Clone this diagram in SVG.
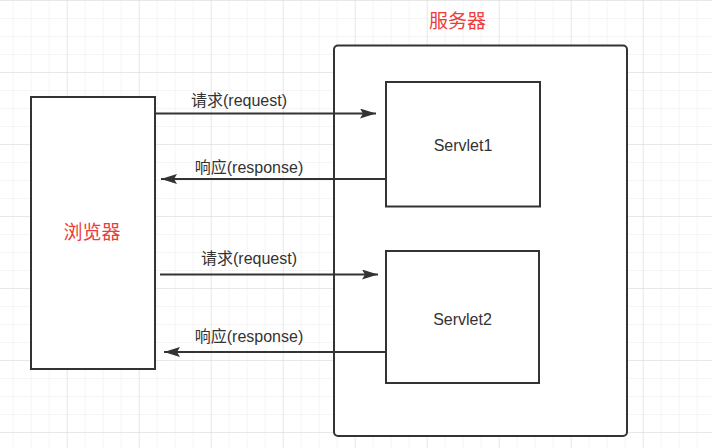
<svg xmlns="http://www.w3.org/2000/svg" width="712" height="448" viewBox="0 0 712 448">
  <defs>
    <pattern id="minor" x="12.67" y="0" width="18" height="18" patternUnits="userSpaceOnUse">
      <path d="M0,0 V18 M0,0 H18" fill="none" stroke="#ececec" stroke-width="1"/>
    </pattern>
    <pattern id="major" x="66.67" y="0" width="72" height="72" patternUnits="userSpaceOnUse">
      <path d="M0,0 V72 M0,0 H72" fill="none" stroke="#dcdcdc" stroke-width="1"/>
    </pattern>
    <marker id="arrow" viewBox="0 0 16 10" refX="16" refY="5" markerWidth="16" markerHeight="10" markerUnits="userSpaceOnUse" orient="auto">
      <path d="M0,0 L16,5 L0,10 L3,5 Z" fill="#333333"/>
    </marker>
  </defs>
  <style>
    .box { fill: #ffffff; stroke: #333333; stroke-width: 2; }
    .conn { stroke: #333333; stroke-width: 2; fill: none; marker-end: url(#arrow); }
    .lbl { font-family: "Liberation Sans", "Noto Sans CJK SC", sans-serif; font-size: 16px; fill: #333333; text-anchor: middle; }
    .red { font-family: "Liberation Sans", "Noto Sans CJK SC", sans-serif; font-size: 19px; fill: #ee3b3b; text-anchor: middle; }
  </style>
  <rect width="712" height="448" fill="#ffffff"/>
  <rect width="712" height="448" fill="url(#minor)"/>
  <rect width="712" height="448" fill="url(#major)"/>

  <g id="browser">
    <rect class="box" x="31" y="97" width="124" height="272"/>
    <text class="red" x="92" y="239">浏览器</text>
  </g>

  <g id="server">
    <rect class="box" x="334" y="45.5" width="293" height="390.5" rx="4" ry="4"/>
    <text class="red" x="457.5" y="28">服务器</text>
  </g>

  <g id="servlet1">
    <rect class="box" x="386" y="82" width="154" height="124.5"/>
    <text class="lbl" x="463" y="150.5">Servlet1</text>
  </g>

  <g id="servlet2">
    <rect class="box" x="386" y="251" width="153" height="132"/>
    <text class="lbl" x="462.5" y="324.5">Servlet2</text>
  </g>

  <g id="connectors">
    <line class="conn" x1="155" y1="113.5" x2="376" y2="113.5"/>
    <line class="conn" x1="386" y1="179" x2="161" y2="179"/>
    <line class="conn" x1="160" y1="274.5" x2="378" y2="274.5"/>
    <line class="conn" x1="386" y1="352" x2="164" y2="352"/>
    <text class="lbl" x="239" y="105.5">请求(request)</text>
    <text class="lbl" x="249" y="172.5">响应(response)</text>
    <text class="lbl" x="249" y="263.5">请求(request)</text>
    <text class="lbl" x="249" y="342">响应(response)</text>
  </g>
</svg>
